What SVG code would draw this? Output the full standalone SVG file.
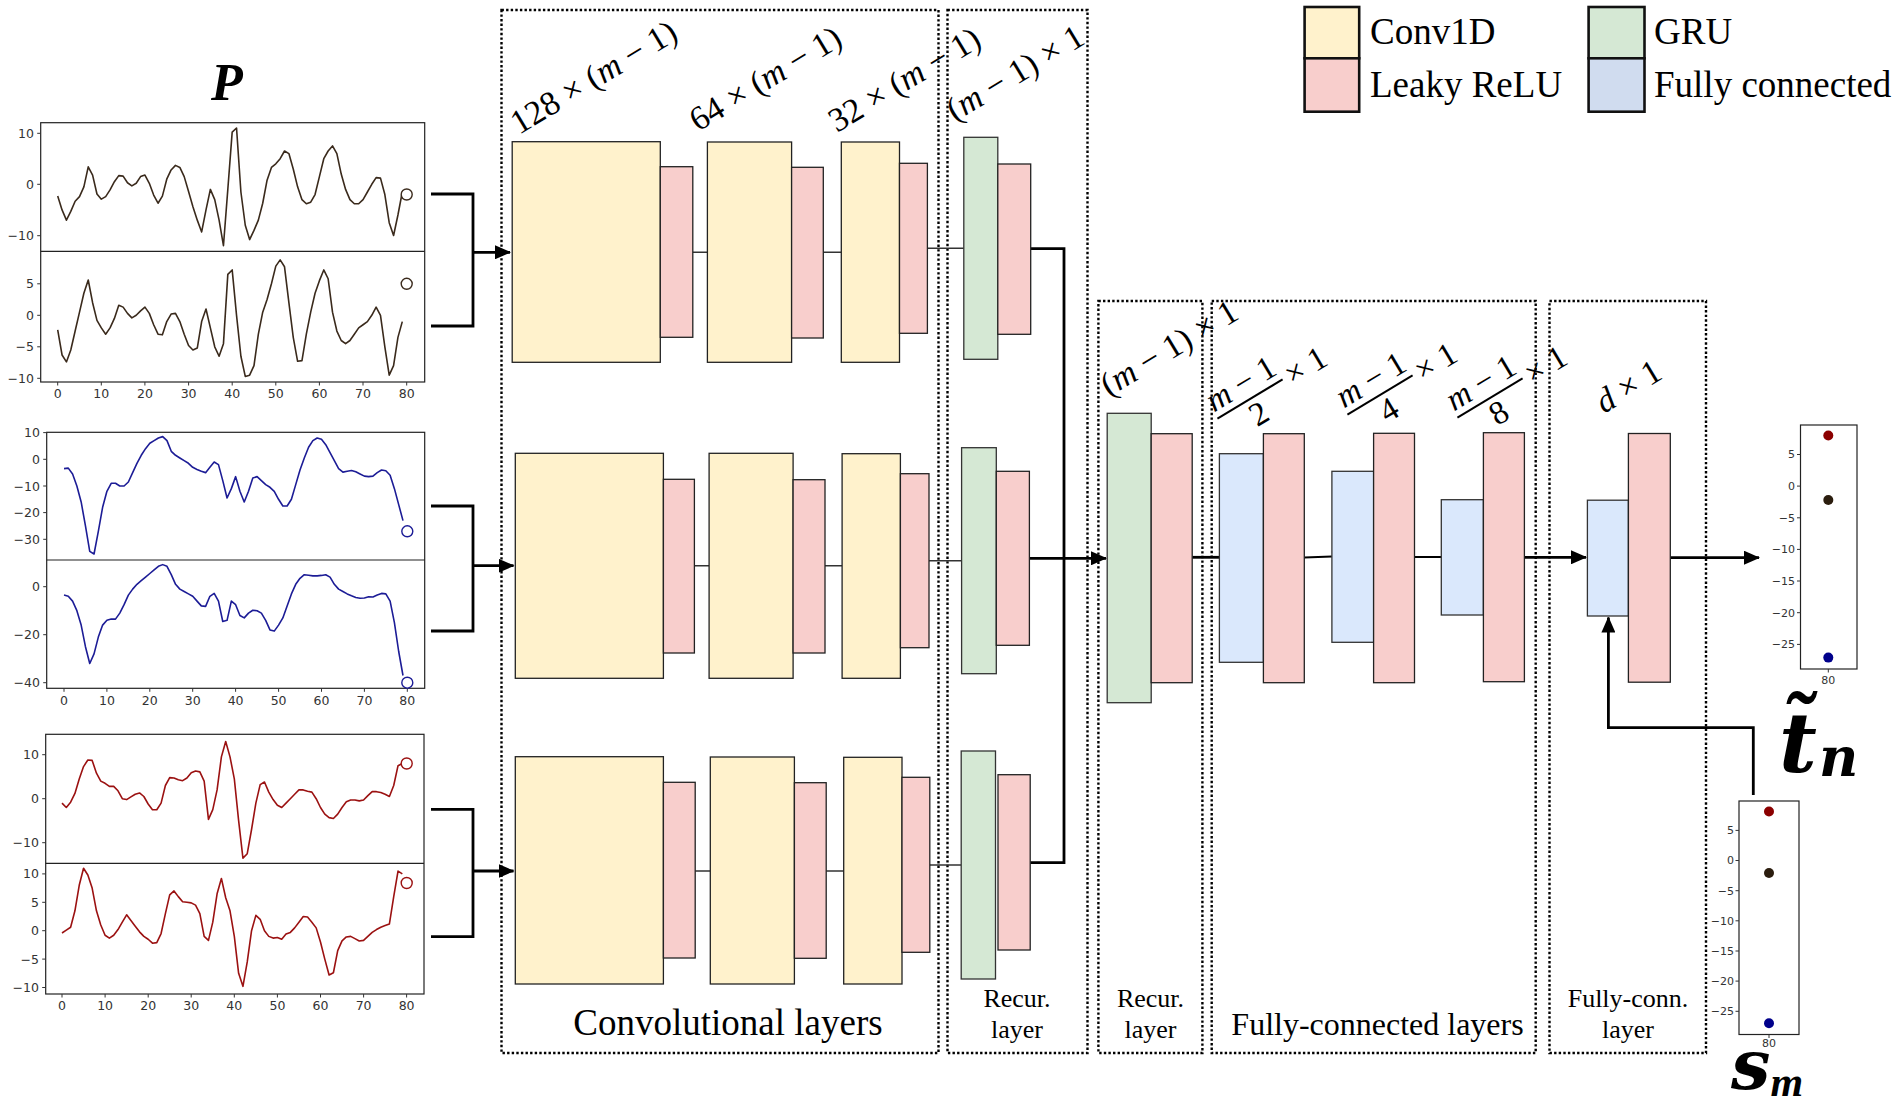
<svg xmlns="http://www.w3.org/2000/svg" width="1903" height="1103" viewBox="0 0 1903 1103">
<defs>
<style>
.bg{fill:#fff}
.ax{fill:none;stroke:#222;stroke-width:1.2}
.tk{fill:none;stroke:#333;stroke-width:1}
.tlr{font-family:"DejaVu Sans",sans-serif;font-size:12.5px;fill:#333;text-anchor:end}
.tlm{font-family:"DejaVu Sans",sans-serif;font-size:12.5px;fill:#333;text-anchor:middle}
.sl{font-family:"DejaVu Sans",sans-serif;font-size:11px;fill:#333;text-anchor:end}
.slm{font-family:"DejaVu Sans",sans-serif;font-size:11px;fill:#333;text-anchor:middle}
.ln{fill:none;stroke-width:1.6;stroke-linejoin:round;vector-effect:non-scaling-stroke}
.c1{stroke:#3a2a1c}.c2{stroke:#1c1c96}.c3{stroke:#9b1111}
.mk{fill:#fff;stroke-width:1.4}
.cv{fill:#fff2cc;stroke:#222;stroke-width:1.3}
.lr{fill:#f8cecc;stroke:#222;stroke-width:1.3}
.gr{fill:#d5e8d4;stroke:#333;stroke-width:1.3}
.fc{fill:#dae8fc;stroke:#333;stroke-width:1.3}
.lgb{stroke:#111;stroke-width:2.6}
.dash{fill:none;stroke:#000;stroke-width:2.4;stroke-dasharray:2.4 2.2}
.thick{fill:none;stroke:#000;stroke-width:2.8}
.thin{fill:none;stroke:#333;stroke-width:1.5}
.lg{font-family:"Liberation Serif",serif;font-size:37px;fill:#000}
.mt{font-family:"Liberation Serif",serif;font-size:34px;fill:#000}
.fr{font-family:"Liberation Serif",serif;font-size:33px;fill:#000}
.cap{font-family:"Liberation Serif",serif;font-size:26px;fill:#000;text-anchor:middle}
.big{font-family:"Liberation Serif",serif;fill:#000;text-anchor:middle}
.sym{font-family:"Liberation Serif",serif;font-weight:bold;font-style:italic;fill:#000}
.dsym{font-family:"DejaVu Serif",serif;font-weight:bold;font-style:italic;fill:#000}
</style>
<marker id="ah" markerUnits="userSpaceOnUse" markerWidth="16" markerHeight="14" viewBox="0 0 16 14" refX="15" refY="7" orient="auto">
<path d="M0,0 L16,7 L0,14 z" fill="#000"/>
</marker>
</defs>
<rect class="bg" x="0" y="0" width="1903" height="1103"/>

<!-- P title -->
<text class="sym" x="211" y="100" font-size="52">P</text>

<!-- Plot 1 -->
<g id="plot1">
<rect class="ax" x="40.7" y="122.7" width="384" height="259.3" fill="#fff"/>
<line class="ax" x1="40.7" y1="251.3" x2="424.7" y2="251.3"/>
<path class="tk" d="M37.2,133.3H40.7M37.2,184.3H40.7M37.2,235.7H40.7M37.2,283.8H40.7M37.2,315.3H40.7M37.2,346.8H40.7M37.2,378.3H40.7M57.7,382V385.5M101.3,382V385.5M144.9,382V385.5M188.6,382V385.5M232.2,382V385.5M275.8,382V385.5M319.4,382V385.5M363,382V385.5M406.7,382V385.5"/>
<text class="tlr" x="34" y="137.8">10</text><text class="tlr" x="34" y="188.8">0</text><text class="tlr" x="34" y="240.2">−10</text>
<text class="tlr" x="34" y="288.3">5</text><text class="tlr" x="34" y="319.8">0</text><text class="tlr" x="34" y="351.3">−5</text><text class="tlr" x="34" y="382.8">−10</text>
<g class="tlm"><text x="57.7" y="398">0</text><text x="101.3" y="398">10</text><text x="144.9" y="398">20</text><text x="188.6" y="398">30</text><text x="232.2" y="398">40</text><text x="275.8" y="398">50</text><text x="319.4" y="398">60</text><text x="363" y="398">70</text><text x="406.7" y="398">80</text></g>
<polyline class="ln c1" transform="matrix(4.362 0 0 -5.12 57.7 184.3)" points="0,-2.3 1,-5 2,-7 3,-5.3 4,-3.3 5,-2.4 6,-0.5 7,3.4 8,1.8 9,-1.9 10,-2.9 11,-2.4 12,-1.1 13,0.5 14,1.7 15,1.6 16,0.3 17,-0.3 18,0.2 19,1.5 20,1.8 21,0.2 22,-2.1 23,-3.7 24,-2.3 25,1 26,2.8 27,3.7 28,3.3 29,1.5 30,-1.4 31,-4.4 32,-7 33,-9.3 34,-5 35,-1 36,-3 37,-7 38,-12 39,-1 40,10.2 41,11 42,-1.5 43,-8 44,-10.8 45,-9 46,-7 47,-3.7 48,0.8 49,3.3 50,4 51,5 52,6.5 53,6 54,3 55,-0.5 56,-3 57,-3.8 58,-3.5 59,-2 60,1.5 61,5 62,6.5 63,7.5 64,6 65,2 66,-1 67,-3 68,-3.8 69,-3.8 70,-3 71,-1.5 72,0 73,1.3 74,1.2 75,-2 76,-7.5 77,-10 78,-6 79,-1.5"/>
<polyline class="ln c1" transform="matrix(4.362 0 0 -6.3 57.7 315.3)" points="0,-2.3 1,-6.3 2,-7.4 3,-5.5 4,-2.5 5,0.5 6,3.5 7,5.6 8,2 9,-0.8 10,-2 11,-3 12,-2 13,-0.5 14,1.6 15,1.3 16,0.3 17,-0.4 18,0 19,0.7 20,1.3 21,0.3 22,-1.5 23,-3 24,-3.1 25,-1 26,0.2 27,0.3 28,-1 29,-3 30,-4.8 31,-5.5 32,-5.2 33,-1 34,1 35,-2 36,-5 37,-6.5 38,-4.5 39,6.5 40,7.2 41,0 42,-6.5 43,-9.7 44,-9.5 45,-8 46,-3 47,0.5 48,2.5 49,5 50,7.8 51,8.8 52,7.7 53,2 54,-3.5 55,-7.3 56,-7.2 57,-3 58,0.5 59,3.5 60,5.5 61,7.2 62,5.8 63,0.5 64,-2.5 65,-4 66,-4.5 67,-4 68,-3 69,-2 70,-1.5 71,-1 72,0 73,1.3 74,0 75,-5 76,-9.5 77,-8 78,-3.5 79,-1"/>
<circle class="mk c1" cx="406.7" cy="194.5" r="5.5"/>
<circle class="mk c1" cx="406.7" cy="283.8" r="5.5"/>
</g>

<!-- Plot 2 -->
<g id="plot2">
<rect class="ax" x="46.7" y="432.3" width="378" height="256" fill="#fff"/>
<line class="ax" x1="46.7" y1="560" x2="424.7" y2="560"/>
<path class="tk" d="M43.2,432.6H46.7M43.2,459.3H46.7M43.2,486H46.7M43.2,512.6H46.7M43.2,539.3H46.7M43.2,586.7H46.7M43.2,634.7H46.7M43.2,682.7H46.7M64,688.3V691.8M106.9,688.3V691.8M149.8,688.3V691.8M192.7,688.3V691.8M235.6,688.3V691.8M278.6,688.3V691.8M321.5,688.3V691.8M364.4,688.3V691.8M407.3,688.3V691.8"/>
<text class="tlr" x="40" y="437.1">10</text><text class="tlr" x="40" y="463.8">0</text><text class="tlr" x="40" y="490.5">−10</text><text class="tlr" x="40" y="517.1">−20</text><text class="tlr" x="40" y="543.8">−30</text>
<text class="tlr" x="40" y="591.2">0</text><text class="tlr" x="40" y="639.2">−20</text><text class="tlr" x="40" y="687.2">−40</text>
<g class="tlm"><text x="64" y="704.5">0</text><text x="106.9" y="704.5">10</text><text x="149.8" y="704.5">20</text><text x="192.7" y="704.5">30</text><text x="235.6" y="704.5">40</text><text x="278.6" y="704.5">50</text><text x="321.5" y="704.5">60</text><text x="364.4" y="704.5">70</text><text x="407.3" y="704.5">80</text></g>
<polyline class="ln c2" transform="matrix(4.291 0 0 -2.667 64 459.3)" points="0,-3.5 1,-3.3 2,-5.5 3,-10 4,-16 5,-25 6,-34.5 7,-35.5 8,-27 9,-18 10,-12 11,-9 12,-9 13,-10 14,-10 15,-8.5 16,-5 17,-1.5 18,1.5 19,4 20,6 21,7 22,8 23,8.5 24,7 25,3 26,1.5 27,0.5 28,-0.5 29,-1.5 30,-3 31,-3.8 32,-4.5 33,-5 34,-3 35,-1 36,-2 37,-8 38,-14.5 39,-11 40,-6.5 41,-12 42,-16 43,-12 44,-7 45,-6.5 46,-8 47,-9.5 48,-10.5 49,-12 50,-15 51,-17.5 52,-17.5 53,-15 54,-9.5 55,-4 56,0.5 57,4.5 58,7 59,8 60,7.5 61,5.5 62,2.5 63,-0.5 64,-3.5 65,-4.8 66,-4.5 67,-4.2 68,-4.7 69,-5.5 70,-6.3 71,-6.5 72,-6.3 73,-5 74,-4 75,-4.3 76,-6 77,-11 78,-17 79,-23"/>
<polyline class="ln c2" transform="matrix(4.291 0 0 -2.4 64 586.7)" points="0,-3.5 1,-4 2,-6 3,-10 4,-16 5,-25 6,-32 7,-28 8,-21 9,-16 10,-14 11,-13.5 12,-13.5 13,-11 14,-7.5 15,-3.5 16,-1 17,1 18,2.5 19,4 20,5.5 21,7 22,8.5 23,9.2 24,8.5 25,5 26,1 27,-1 28,-2 29,-3 30,-4 31,-6 32,-8 33,-8.2 34,-4 35,-2.8 36,-6 37,-14.5 38,-14 39,-6 40,-7.5 41,-12 42,-13 43,-11 44,-9.8 45,-10 46,-11 47,-14 48,-18 49,-18.5 50,-16 51,-13 52,-8 53,-3 54,1 55,3.5 56,5 57,4.8 58,4.5 59,4.5 60,4.7 61,5 62,4 63,1 64,-1 65,-2 66,-3 67,-3.8 68,-4.5 69,-4.8 70,-4.7 71,-4.2 72,-4.3 73,-3.5 74,-2.8 75,-3 76,-6 77,-15 78,-27 79,-37"/>
<circle class="mk c2" cx="407.3" cy="531.3" r="5.5"/>
<circle class="mk c2" cx="407.3" cy="682.7" r="5.5"/>
</g>

<!-- Plot 3 -->
<g id="plot3">
<rect class="ax" x="45.7" y="734.3" width="378.3" height="259.7" fill="#fff"/>
<line class="ax" x1="45.7" y1="863.3" x2="424" y2="863.3"/>
<path class="tk" d="M42.2,754.7H45.7M42.2,798.7H45.7M42.2,842.7H45.7M42.2,873.9H45.7M42.2,902.3H45.7M42.2,930.7H45.7M42.2,959.1H45.7M42.2,987.5H45.7M62,994V997.5M105.1,994V997.5M148.2,994V997.5M191.2,994V997.5M234.3,994V997.5M277.4,994V997.5M320.5,994V997.5M363.6,994V997.5M406.6,994V997.5"/>
<text class="tlr" x="39" y="759.2">10</text><text class="tlr" x="39" y="803.2">0</text><text class="tlr" x="39" y="847.2">−10</text>
<text class="tlr" x="39" y="878.4">10</text><text class="tlr" x="39" y="906.8">5</text><text class="tlr" x="39" y="935.2">0</text><text class="tlr" x="39" y="963.6">−5</text><text class="tlr" x="39" y="992">−10</text>
<g class="tlm"><text x="62" y="1010">0</text><text x="105.1" y="1010">10</text><text x="148.2" y="1010">20</text><text x="191.2" y="1010">30</text><text x="234.3" y="1010">40</text><text x="277.4" y="1010">50</text><text x="320.5" y="1010">60</text><text x="363.6" y="1010">70</text><text x="406.6" y="1010">80</text></g>
<polyline class="ln c3" transform="matrix(4.308 0 0 -4.4 62 798.7)" points="0,-1 1,-2 2,-0.8 3,1.2 4,4.5 5,7.3 6,8.8 7,8.7 8,5.8 9,4 10,3.5 11,2.8 12,2.8 13,1.8 14,0 15,-0.2 16,0.4 17,1 18,1.3 19,0.5 20,-1.2 21,-2.5 22,-2.5 23,-1 24,3 25,4.8 26,4.7 27,4.3 28,4.1 29,4.7 30,5.9 31,6.3 32,6.1 33,4 34,-4.7 35,-2.5 36,2 37,9.5 38,13 39,9.5 40,4.5 41,-5 42,-13.5 43,-12.5 44,-7 45,-1 46,3.2 47,3.8 48,1.5 49,-0.2 50,-1.5 51,-2 52,-1 53,0 54,1 55,2 56,2 57,1.7 58,1.5 59,0 60,-2 61,-3.5 62,-4.3 63,-4.5 64,-3.5 65,-2 66,-0.7 67,-0.3 68,-0.3 69,-0.5 70,-0.3 71,0.7 72,1.6 73,1.6 74,1.4 75,1 76,0.5 77,3 78,7.5 79,8"/>
<polyline class="ln c3" transform="matrix(4.308 0 0 -5.68 62 930.7)" points="0,-0.4 1,0.1 2,0.6 3,3.5 4,8 5,11 6,9.8 7,7.5 8,3.5 9,1 10,-0.8 11,-1.3 12,-0.8 13,0.2 14,1.5 15,2.8 16,1.8 17,0.8 18,-0.2 19,-1 20,-1.5 21,-2.2 22,-2.1 23,-0.5 24,3 25,6.3 26,7 27,6 28,5.1 29,5 30,4.9 31,4.5 32,3 33,-1 34,-1.7 35,1.5 36,6.5 37,9.2 38,5.8 39,3.5 40,-1 41,-7.5 42,-9.8 43,-5.5 44,0 45,2.7 46,2 47,0 48,-1 49,-1.3 50,-1.2 51,-1.5 52,-0.6 53,-0.3 54,0.5 55,1.5 56,2.5 57,2.4 58,1.5 59,0.5 60,-2 61,-5 62,-7.8 63,-7.4 64,-3.5 65,-1.8 66,-1.1 67,-1 68,-1.4 69,-1.8 70,-1.7 71,-1 72,-0.3 73,0.2 74,0.6 75,0.9 76,1.2 77,6 78,10.5 79,10"/>
<circle class="mk c3" cx="406.7" cy="763.5" r="5.5"/>
<circle class="mk c3" cx="406.7" cy="883" r="5.5"/>
</g>

<!-- Dashed group boxes -->
<g id="groups">
<rect class="dash" x="501.5" y="10" width="437" height="1043"/>
<rect class="dash" x="947.5" y="10" width="140" height="1043"/>
<rect class="dash" x="1098.4" y="301" width="104" height="752"/>
<rect class="dash" x="1211.7" y="301" width="324" height="752"/>
<rect class="dash" x="1549.5" y="301" width="156.5" height="752"/>
</g>

<!-- Connectors -->
<g id="connectors">
<path class="thick" d="M431,194H473V326H431"/>
<path class="thick" d="M473,252.3H510" marker-end="url(#ah)"/>
<path class="thick" d="M431,506H473V631H431"/>
<path class="thick" d="M473,565.7H513.5" marker-end="url(#ah)"/>
<path class="thick" d="M431,809.3H473V936.7H431"/>
<path class="thick" d="M473,871H513.5" marker-end="url(#ah)"/>
<path class="thin" d="M692.8,252.3H707.4M823.3,252.3H841.3M927.4,248.3H963.8"/>
<path class="thin" d="M694.4,565.7H709.1M825,565.7H842.1M929,560.7H961.6"/>
<path class="thin" d="M695.2,871H710.3M826.2,871H843.7M929.8,865H961.2"/>
<path class="thick" d="M1030.7,248.7H1064V862.7H1030.2"/>
<path class="thick" d="M1029.4,558.3H1106" marker-end="url(#ah)"/>
<path class="thick" d="M1192.2,557.3H1219.4"/>
<path class="thick" style="stroke-width:2.2" d="M1304.3,557.5L1331.9,556.5M1414.5,557H1441.3"/>
<path class="thick" d="M1524.4,557.3H1586" marker-end="url(#ah)"/>
<path class="thick" d="M1670.3,557.7H1759" marker-end="url(#ah)"/>
<path class="thick" d="M1753.3,795V727.7H1608.4V617.5" marker-end="url(#ah)"/>
</g>

<!-- Row 1 -->
<g id="conv1-row1"><rect class="cv" x="512.2" y="141.7" width="148.1" height="220.6"/><rect class="lr" x="660.3" y="166.7" width="32.5" height="170.6"/></g>
<g id="conv2-row1"><rect class="cv" x="707.4" y="142" width="84.2" height="220.3"/><rect class="lr" x="791.6" y="167.3" width="31.7" height="170.7"/></g>
<g id="conv3-row1"><rect class="cv" x="841.3" y="142" width="58.2" height="220.3"/><rect class="lr" x="899.5" y="163.3" width="27.9" height="170"/></g>
<g id="gru-row1"><rect class="gr" x="963.8" y="137.3" width="34" height="222"/><rect class="lr" x="997.8" y="164" width="32.9" height="170.3"/></g>
<!-- Row 2 -->
<g id="conv1-row2"><rect class="cv" x="515.3" y="453.3" width="148.1" height="225"/><rect class="lr" x="663.4" y="479.3" width="31" height="173.7"/></g>
<g id="conv2-row2"><rect class="cv" x="709.1" y="453.3" width="84" height="225"/><rect class="lr" x="793.1" y="479.7" width="31.9" height="173.3"/></g>
<g id="conv3-row2"><rect class="cv" x="842.1" y="453.7" width="58.3" height="224.6"/><rect class="lr" x="900.4" y="473.7" width="28.6" height="174"/></g>
<g id="gru-row2"><rect class="gr" x="961.6" y="447.7" width="34.7" height="226"/><rect class="lr" x="996.3" y="471.3" width="33.1" height="174"/></g>
<!-- Row 3 -->
<g id="conv1-row3"><rect class="cv" x="515.3" y="756.7" width="148.1" height="227.3"/><rect class="lr" x="663.4" y="782.3" width="31.8" height="175.7"/></g>
<g id="conv2-row3"><rect class="cv" x="710.3" y="757" width="84.1" height="227"/><rect class="lr" x="794.4" y="782.7" width="31.8" height="175.6"/></g>
<g id="conv3-row3"><rect class="cv" x="843.7" y="757.3" width="58.3" height="226.7"/><rect class="lr" x="902" y="777.3" width="27.8" height="175"/></g>
<g id="gru-row3"><rect class="gr" x="961.2" y="751" width="34.3" height="228"/><rect class="lr" x="998" y="774.7" width="32.2" height="175.3"/></g>
<!-- Second part -->
<g id="gru2"><rect class="gr" x="1107.2" y="413.3" width="44" height="289.4"/><rect class="lr" x="1151.2" y="433.7" width="41" height="249"/></g>
<g id="fc1"><rect class="fc" x="1219.4" y="453.7" width="44" height="208.6"/><rect class="lr" x="1263.4" y="433.7" width="40.9" height="249"/></g>
<g id="fc2"><rect class="fc" x="1331.9" y="471.3" width="41.7" height="171"/><rect class="lr" x="1373.6" y="433.3" width="40.9" height="249.4"/></g>
<g id="fc3"><rect class="fc" x="1441.3" y="499.7" width="42.1" height="115.3"/><rect class="lr" x="1483.4" y="432.7" width="41" height="249"/></g>
<g id="fc4"><rect class="fc" x="1587.4" y="500.2" width="41" height="115.8"/><rect class="lr" x="1628.4" y="433.5" width="41.9" height="248.7"/></g>

<!-- Dimension labels -->
<g id="dims" class="mt">
<text transform="translate(519,135) rotate(-31)">128 × (<tspan font-style="italic">m</tspan> − 1)</text>
<text transform="translate(698,132) rotate(-31)">64 × (<tspan font-style="italic">m</tspan> − 1)</text>
<text transform="translate(837,133) rotate(-31)">32 × (<tspan font-style="italic">m</tspan> − 1)</text>
<text transform="translate(955,122) rotate(-31)">(<tspan font-style="italic">m</tspan> − 1) × 1</text>
<text transform="translate(1109,397) rotate(-31)">(<tspan font-style="italic">m</tspan> − 1) × 1</text>
<g class="fr" transform="translate(1250,399) rotate(-31)"><text x="0" y="-7" text-anchor="middle"><tspan font-style="italic">m</tspan> − 1</text><line x1="-38" y1="0" x2="38" y2="0" stroke="#000" stroke-width="2"/><text x="0" y="28" text-anchor="middle">2</text><text x="43" y="11">× 1</text></g>
<g class="fr" transform="translate(1380,395) rotate(-31)"><text x="0" y="-7" text-anchor="middle"><tspan font-style="italic">m</tspan> − 1</text><line x1="-38" y1="0" x2="38" y2="0" stroke="#000" stroke-width="2"/><text x="0" y="28" text-anchor="middle">4</text><text x="43" y="11">× 1</text></g>
<g class="fr" transform="translate(1490,398) rotate(-31)"><text x="0" y="-7" text-anchor="middle"><tspan font-style="italic">m</tspan> − 1</text><line x1="-38" y1="0" x2="38" y2="0" stroke="#000" stroke-width="2"/><text x="0" y="28" text-anchor="middle">8</text><text x="43" y="11">× 1</text></g>
<text transform="translate(1604,414) rotate(-31)"><tspan font-style="italic">d</tspan> × 1</text>
</g>

<!-- Group captions -->
<g id="captions">
<text class="big" x="728" y="1035" font-size="37">Convolutional layers</text>
<text class="cap" x="1017" y="1007">Recur.</text><text class="cap" x="1017" y="1038">layer</text>
<text class="cap" x="1150.5" y="1007">Recur.</text><text class="cap" x="1150.5" y="1038">layer</text>
<text class="big" x="1377.5" y="1035" font-size="32">Fully-connected layers</text>
<text class="cap" x="1628" y="1007">Fully-conn.</text><text class="cap" x="1628" y="1038">layer</text>
</g>

<!-- Legend -->
<g id="legend">
<rect class="lgb" x="1304.6" y="7" width="54.6" height="51.3" fill="#fff2cc"/>
<rect class="lgb" x="1304.6" y="58.3" width="54.6" height="53.4" fill="#f8cecc"/>
<rect class="lgb" x="1588.6" y="7" width="55.9" height="51.3" fill="#d5e8d4"/>
<rect class="lgb" x="1588.6" y="58.3" width="55.9" height="53.4" fill="#d0dcef"/>
<text class="lg" x="1370" y="44">Conv1D</text>
<text class="lg" x="1370" y="97">Leaky ReLU</text>
<text class="lg" x="1654" y="44">GRU</text>
<text class="lg" x="1654" y="97">Fully connected</text>
</g>

<!-- Output plot t_n -->
<g id="out-tn">
<rect class="ax" x="1800.5" y="425" width="56.5" height="244"/>
<path class="tk" d="M1797,454.5H1800.5M1797,486.1H1800.5M1797,517.8H1800.5M1797,549.4H1800.5M1797,581H1800.5M1797,612.7H1800.5M1797,644.4H1800.5M1828.3,669V672.5"/>
<text class="sl" x="1795" y="458.3">5</text><text class="sl" x="1795" y="489.9">0</text><text class="sl" x="1795" y="521.6">−5</text><text class="sl" x="1795" y="553.2">−10</text><text class="sl" x="1795" y="584.8">−15</text><text class="sl" x="1795" y="616.5">−20</text><text class="sl" x="1795" y="648.2">−25</text>
<text class="slm" x="1828.3" y="684">80</text>
<circle cx="1828.3" cy="435.5" r="5" fill="#8b0000"/>
<circle cx="1828.3" cy="500" r="5" fill="#2b1d0e"/>
<circle cx="1828.3" cy="657.6" r="5" fill="#00008b"/>
<text class="dsym" x="1779" y="772" font-size="82">t̃<tspan font-size="54" dx="2" dy="4">n</tspan></text>
</g>

<!-- Input plot s_m -->
<g id="in-sm">
<rect class="ax" x="1739" y="801" width="60" height="233.5"/>
<path class="tk" d="M1735.5,830.4H1739M1735.5,860.5H1739M1735.5,890.7H1739M1735.5,920.8H1739M1735.5,951H1739M1735.5,981.1H1739M1735.5,1011.3H1739M1769,1034.5V1038"/>
<text class="sl" x="1734" y="834.2">5</text><text class="sl" x="1734" y="864.3">0</text><text class="sl" x="1734" y="894.5">−5</text><text class="sl" x="1734" y="924.6">−10</text><text class="sl" x="1734" y="954.8">−15</text><text class="sl" x="1734" y="984.9">−20</text><text class="sl" x="1734" y="1015.1">−25</text>
<text class="slm" x="1769" y="1047">80</text>
<text class="dsym" x="1731" y="1089" font-size="70">s<tspan class="sym" font-size="42" dy="7">m</tspan></text>
<circle cx="1769" cy="811.5" r="5" fill="#8b0000"/>
<circle cx="1769" cy="873" r="5" fill="#2b1d0e"/>
<circle cx="1769" cy="1023.3" r="5" fill="#00008b"/>
</g>
</svg>
